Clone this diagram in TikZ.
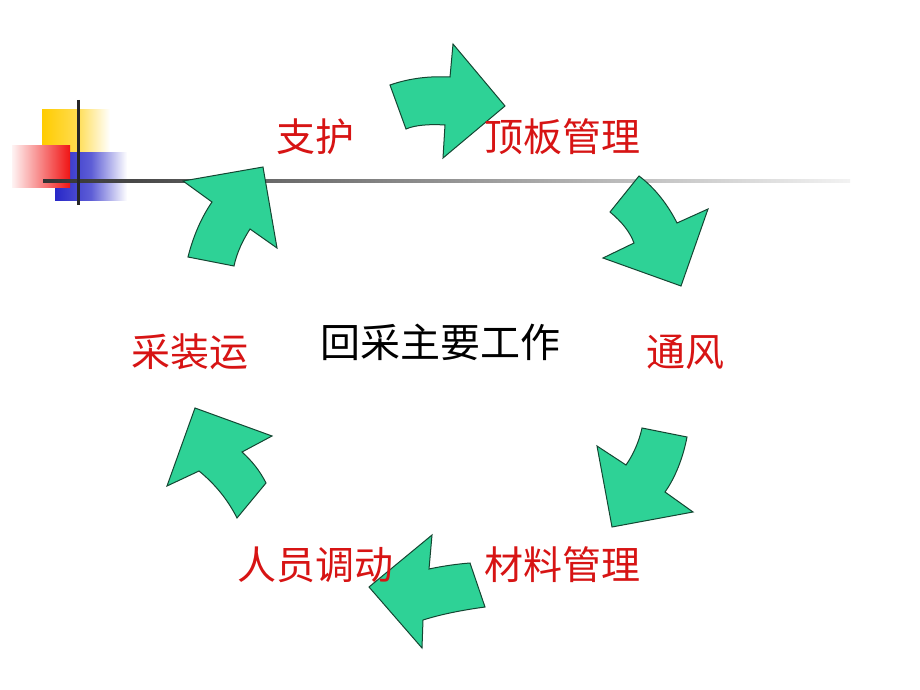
\documentclass[tikz,border=0pt]{standalone}
\usepackage{fontspec}
\newfontfamily\cjk{Noto Sans CJK SC}
\definecolor{arrowfill}{RGB}{46,210,150}
\definecolor{arrowline}{RGB}{20,70,50}
\definecolor{labred}{RGB}{215,20,20}
\definecolor{decyellow}{RGB}{255,204,0}
\definecolor{decred}{RGB}{240,20,20}
\definecolor{decblue}{RGB}{40,40,200}
\tikzset{
  cyc/.style={fill=arrowfill, draw=arrowline, line width=1pt, line join=miter},
  lab/.style={text=labred, font=\cjk\fontsize{39}{42}\selectfont, inner sep=0pt},
  ctr/.style={text=black, font=\cjk\fontsize{40}{44}\selectfont, inner sep=0pt}
}
\begin{document}
\begin{tikzpicture}[x=1pt,y=-1pt]
\useasboundingbox (0,0) rectangle (920,690);
\fill[white] (0,0) rectangle (920,690);
% decoration
\shade[left color=decyellow, right color=white, middle color=decyellow!70] (42,110) rectangle (110,152);
\shade[left color=decblue, right color=white, middle color=decblue!75] (55,152) rectangle (127,200);
\shade[left color=decred!5, right color=decred] (12,145) rectangle (70,187);
\shade[left color=black!80, right color=black!5] (43,179.5) rectangle (850,182.5);
\draw[black!85, line width=3pt] (78,100) -- (78,205);
% arrows
\draw[cyc] (390,85) .. controls (410,78) and (430,76) .. (450,77) -- (453,44) -- (505,106) -- (443,158) -- (445,125) .. controls (430,124) and (415,125) .. (406,129) -- cycle;
\draw[cyc] (639,176) -- (610,212) .. controls (622,222) and (630,232) .. (634,243) -- (603,258) -- (681,286) -- (708,209) -- (677,223) .. controls (668,205) and (655,188) .. (639,176) -- cycle;
\draw[cyc] (642,428) -- (687,437) .. controls (683,458) and (675,478) .. (665,492) -- (693,512) -- (612,527) -- (597,446) -- (626,465) .. controls (633,455) and (639,442) .. (642,428) -- cycle;
\draw[cyc] (432,535) -- (429,569) .. controls (443,566) and (457,564) .. (470,563) -- (485,607) .. controls (463,610) and (442,614) .. (423,620) -- (422,648) -- (369,587) -- cycle;
\draw[cyc] (195,408) -- (272,436) -- (242,452) .. controls (252,461) and (260,471) .. (266,483) -- (237,518) .. controls (228,500) and (215,484) .. (199,471) -- (167,486) -- cycle;
\draw[cyc] (183,181) -- (263,167) -- (277,248) -- (250,229) .. controls (243,240) and (237,252) .. (234,266) -- (188,257) .. controls (193,237) and (201,218) .. (212,202) -- cycle;
% labels
\node[lab] (zh) at (315,137) {支护};
\node[lab] (db) at (562,137) {顶板管理};
\node[lab] (tf) at (685,352) {通风};
\node[lab] (cl) at (562,565) {材料管理};
\node[lab] (ry) at (315,565) {人员调动};
\node[lab] (cz) at (190,352) {采装运};
\node[ctr] (center) at (440,342) {回采主要工作};
\end{tikzpicture}
\end{document}
